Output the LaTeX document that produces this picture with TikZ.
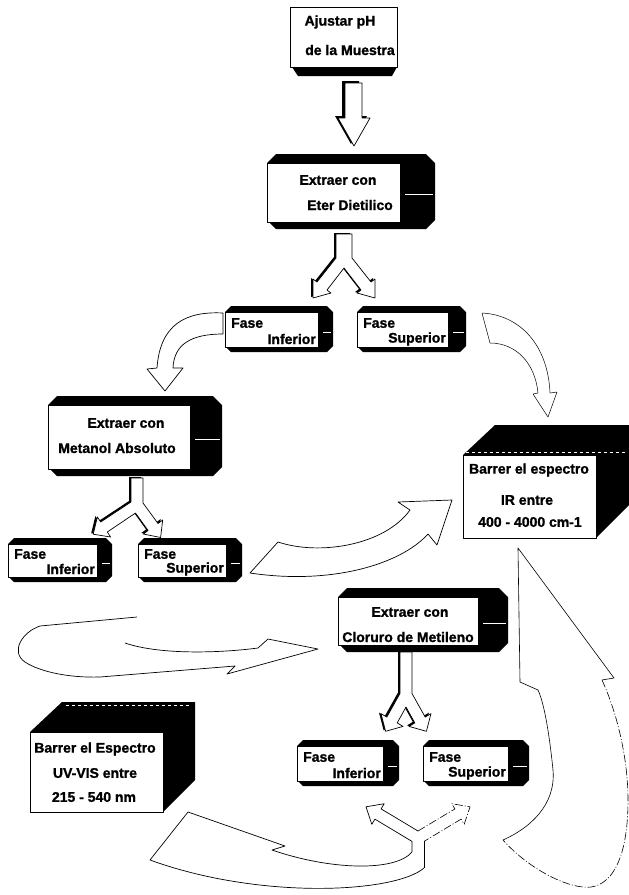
\documentclass[tikz,border=0pt]{standalone}
\usepackage{fontspec}
\setmainfont{Liberation Sans}[BoldFeatures={FakeBold=1.2}]
\begin{document}
\begin{tikzpicture}[x=1pt,y=-1pt,line join=round]
\tikzset{
  lbl/.style={font=\fontsize{14}{16}\selectfont\bfseries, inner sep=0pt},
  arr/.style={draw=black, fill=white, line width=0.7pt},
  front/.style={draw=black, fill=white, line width=1pt, inner sep=0pt, anchor=north west},
  faint/.style={line width=0.6pt, dash pattern=on 8pt off 2pt on 1pt off 2pt},
}
\newcommand{\bevbox}[7]{%
  \fill[black] (#2,{#3+#7}) -- ({#2+#7},#3) -- ({#4-#7},#3) -- (#4,{#3+#7}) -- (#4,{#5-#7}) -- ({#4-#7},#5) -- ({#2+#7},#5) -- (#2,{#5-#7}) -- cycle;
  \node[front, minimum width={(#6-#2)*1pt}, minimum height={(#5-#3-1.8*#7)*1pt}] (#1) at (#2,{#3+#7}) {};
  \draw[white, line width=0.7pt] ({#6+5},{(#3+#5)/2+3}) -- ({#4-2},{(#3+#5)/2+3});
}
\useasboundingbox[fill=white] (0,0) rectangle (629,895);

% ---------- Ajustar pH ----------
\fill[black] (292,67) -- (397,67) -- (392,76) -- (298,76) -- cycle;
\node[front, minimum width=107pt, minimum height=60pt] (ajustar) at (290,7) {};
\node[lbl] (ajA) at (340,22) {Ajustar pH};
\node[lbl] (ajB) at (350,50) {de la Muestra};

% down arrow
\fill[black, shift={(-3,-2)}] (345,83) -- (362,83) -- (362,118) -- (370,118) -- (354,146) -- (338,118) -- (345,118) -- cycle;
\path[arr] (345,83) -- (362,83) -- (362,118) -- (370,118) -- (354,146) -- (338,118) -- (345,118) -- cycle;

% ---------- Extraer con Eter Dietilico ----------
\bevbox{eter}{267}{154}{435}{229}{400}{9}
\node[lbl] (etA) at (338,180) {Extraer con};
\node[lbl] (etB) at (350,205) {Eter Dietilico};

% Y arrow 1
\def\yone{(336,234) -- (352,234) -- (352,258) -- (371,282) -- (375,279) -- (375,298) -- (357,293) -- (361,290) -- (344,268) -- (327,290) -- (331,293) -- (313,298) -- (313,279) -- (317,282) -- (336,258) -- cycle}
\fill[black, shift={(-2,-1)}] \yone;
\path[arr] \yone;

% ---------- Fase boxes (top) ----------
\bevbox{finf1}{225}{306}{333}{352}{318}{6}
\node[lbl, anchor=west] (fi1a) at (231,323) {Fase};
\node[lbl, anchor=east] (fi1b) at (316,339) {Inferior};
\bevbox{fsup1}{357}{306}{466}{352}{448}{6}
\node[lbl, anchor=west] (fs1a) at (363,323) {Fase};
\node[lbl, anchor=east] (fs1b) at (446,339) {Superior};

% curved arrow to Metanol
\path[arr] (223,313) .. controls (185,311) and (160,325) .. (157,368) -- (147,369) -- (165,391) -- (183,368) -- (173,368) .. controls (174,345) and (190,334) .. (223,334) -- cycle;

% curved arrow to IR (thin)
\path[arr, line width=0.5pt] (482,313) .. controls (520,315) and (548,345) .. (550,393) -- (557,392) -- (548,417) -- (533,394) -- (538,393) .. controls (535,362) and (515,343) .. (490,343) -- cycle;

% ---------- Metanol ----------
\bevbox{metanol}{48}{396}{222}{476}{190}{9}
\node[lbl] (meA) at (126,423) {Extraer con};
\node[lbl] (meB) at (117,448) {Metanol Absoluto};

% Y arrow 2
\def\ytwo{(131,478) -- (143,478) -- (143,503) -- (158,523.5) -- (162.7,520) -- (160.6,537.5) -- (143.3,534) -- (148.1,530.5) -- (135.5,513) -- (107.3,532) -- (110.6,537) -- (93.2,534.2) -- (97.4,517) -- (100.7,522) -- (131,502) -- cycle}
\fill[black, shift={(-2,-1)}] \ytwo;
\path[arr] \ytwo;

% ---------- Fase boxes (middle) ----------
\bevbox{finf2}{8}{538}{112}{582}{97}{6}
\node[lbl, anchor=west] (fi2a) at (14,554) {Fase};
\node[lbl, anchor=east] (fi2b) at (95,569) {Inferior};
\bevbox{fsup2}{138}{538}{242}{582}{226}{6}
\node[lbl, anchor=west] (fs2a) at (144,554) {Fase};
\node[lbl, anchor=east] (fs2b) at (224,569) {Superior};

% arrow from Fase Superior to IR
\path[arr] (250,573) -- (278,542) .. controls (320,556) and (385,545) .. (410,510) -- (398,502) -- (452,500) -- (437,545) -- (428,534) .. controls (400,565) and (330,585) .. (250,573) -- cycle;

% ---------- IR box ----------
\fill[black] (463,455) -- (495,425) -- (629,425) -- (629,505) -- (596,538) -- (596,455) -- cycle;
\draw[white, line width=0.6pt, dashed] (466,452) -- (626,452);
\node[front, minimum width=133pt, minimum height=83pt] (ir) at (463,455) {};
\node[lbl] (irA) at (529,470) {Barrer el espectro};
\node[lbl] (irB) at (527,500) {IR entre};
\node[lbl] (irC) at (530,522) {400 - 4000 cm-1};

% U-turn arrow to Metileno
\path[arr] (137,617) -- (40,626) .. controls (22,632) and (10,652) .. (25,662) .. controls (40,672) and (70,678) .. (100,677) -- (235,666) -- (227,674) -- (318,649) -- (268,639) -- (258,648) .. controls (220,653) and (160,655) .. (125,643);

% ---------- Metileno ----------
\bevbox{metileno}{338}{588}{508}{652}{478}{9}
\node[lbl] (mlA) at (410,612) {Extraer con};
\node[lbl] (mlB) at (408,637) {Cloruro de Metileno};

% Y arrow 3
\def\ythree{(400,652) -- (412,652) -- (412,693.5) -- (425.2,717.1) -- (431,713.6) -- (426.4,731.3) -- (409,726.4) -- (414.8,722.9) -- (406,707) -- (397.2,722.9) -- (403,726.4) -- (385.6,731.3) -- (381,713.6) -- (386.8,717.1) -- (400,693.5) -- cycle}
\fill[black, shift={(-2,-1)}] \ythree;
\path[arr] \ythree;

% ---------- Fase boxes (bottom) ----------
\bevbox{finf3}{297}{740}{399}{786}{383}{6}
\node[lbl, anchor=west] (fi3a) at (303,757) {Fase};
\node[lbl, anchor=east] (fi3b) at (381,773) {Inferior};
\bevbox{fsup3}{423}{740}{529}{786}{508}{6}
\node[lbl, anchor=west] (fs3a) at (429,757) {Fase};
\node[lbl, anchor=east] (fs3b) at (506,773) {Superior};

% big right arrow to IR
\path[fill=white] (503,840) .. controls (530,828) and (556,805) .. (553,770) .. controls (550,740) and (545,705) .. (538,690) -- (520,682) -- (518,548) -- (614,678) -- (602,680) .. controls (618,715) and (628,760) .. (628,800) .. controls (628,870) and (605,890) .. (583,887) .. controls (560,885) and (525,865) .. (503,840) -- cycle;
\draw[line width=0.6pt] (503,840) .. controls (530,828) and (556,805) .. (553,770) .. controls (550,740) and (545,705) .. (538,690) -- (520,682) -- (518,548) -- (614,678) -- (602,680);
\draw[faint] (602,680) .. controls (618,715) and (628,760) .. (628,800) .. controls (628,870) and (605,890) .. (583,887) .. controls (560,885) and (525,865) .. (503,840);

% bottom small arrows (fill, then edges)
\fill[white] (412,852) -- (412,841.4) -- (374.9,819.1) -- (371.8,824.3) -- (366,806.8) -- (384.2,803.7) -- (381.1,808.9) -- (418,831) -- (454.9,808.9) -- (451.8,803.7) -- (470,806.8) -- (464.2,824.3) -- (461.1,819.1) -- (424,841.4) -- (424,868) -- cycle;
\draw[line width=0.7pt] (412,852) -- (412,841.4) -- (374.9,819.1) -- (371.8,824.3) -- (366,806.8) -- (384.2,803.7) -- (381.1,808.9) -- (418,831);
\draw[faint] (418,831) -- (454.9,808.9) -- (451.8,803.7) -- (470,806.8) -- (464.2,824.3) -- (461.1,819.1) -- (424,841.4);
\draw[line width=0.7pt] (424,841.4) -- (424,868);

% big bottom arrow to UV
\path[arr] (424,868) .. controls (395,893) and (260,900) .. (150,860) -- (188,812) -- (285,846) -- (272,850) .. controls (330,870) and (395,872) .. (412,852);

% ---------- UV-VIS box ----------
\fill[black] (30,732) -- (62,702) -- (195,702) -- (195,780) -- (163,812) -- (163,732) -- cycle;
\draw[white, line width=0.6pt, dashed] (66,705) -- (190,705);
\node[front, minimum width=133pt, minimum height=80pt] (uv) at (30,732) {};
\node[lbl] (uvA) at (95,749) {Barrer el Espectro};
\node[lbl] (uvB) at (95,773) {UV-VIS entre};
\node[lbl] (uvC) at (94,797) {215 - 540 nm};
\end{tikzpicture}
\end{document}
